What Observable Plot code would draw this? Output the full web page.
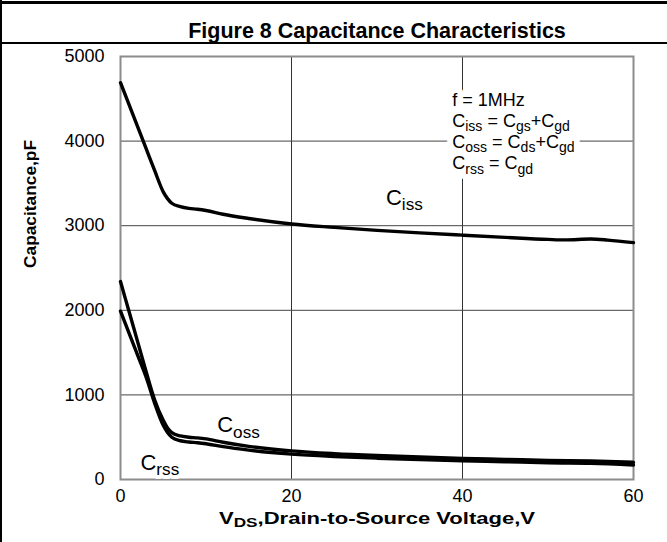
<!DOCTYPE html>
<html>
<head>
<meta charset="utf-8">
<script src="https://cdn.jsdelivr.net/npm/d3@7"></script>
<script src="https://cdn.jsdelivr.net/npm/@observablehq/plot@0.6"></script>
<style>
  html, body { margin: 0; padding: 0; background: #fff; }
  #wrap { position: relative; width: 667px; height: 542px; overflow: hidden; background: #fff; }
  #wrap svg { display: block; }
  .bl { position: absolute; left: 0; top: 0; width: 2px; height: 542px; background: #000; }
  .tl { position: absolute; left: 0; top: 1px; width: 667px; height: 3px; background: #000; }
  .ml { position: absolute; left: 0; top: 42px; width: 667px; height: 2px; background: #000; }
</style>
</head>
<body>
<div id="wrap"><div class="bl"></div><div class="tl"></div><div class="ml"></div></div>
<script>
// ---- data ----
const xTicks = [0, 20, 40, 60];
const yTicks = [0, 1000, 2000, 3000, 4000, 5000];

const cissV = [0, 1, 2, 3, 4, 5, 5.5, 6, 7, 8, 9, 10, 12, 15, 20, 25, 30, 35, 40, 45, 50, 52, 55, 57, 60];
const cissC = [4690, 4430, 4170, 3910, 3650, 3400, 3320, 3265, 3225, 3205, 3195, 3180, 3135, 3085, 3020, 2980, 2945, 2915, 2888, 2862, 2838, 2832, 2842, 2830, 2800];

const cossV = [0, 1, 2, 3, 4, 5, 5.5, 6, 7, 8, 9, 10, 12, 15, 20, 25, 30, 35, 40, 45, 50, 55, 60];
const cossC = [2340, 1985, 1630, 1275, 940, 700, 610, 555, 515, 500, 492, 480, 440, 392, 338, 306, 284, 267, 250, 238, 225, 218, 203];

const crssV = [0, 1, 2, 3, 4, 5, 5.5, 6, 7, 8, 9, 10, 12, 15, 20, 25, 30, 35, 40, 45, 50, 55, 60];
const crssC = [1990, 1730, 1470, 1210, 900, 640, 555, 500, 458, 443, 435, 423, 388, 347, 300, 272, 252, 236, 222, 210, 197, 192, 172];

const titleText = "Figure 8 Capacitance Characteristics";
const xLabel = "V_{DS},Drain-to-Source Voltage,V";
const yLabel = "Capacitance,pF";
const legendLines = ["f = 1MHz", "C_{iss} = C_{gs}+C_{gd}", "C_{oss} = C_{ds}+C_{gd}", "C_{rss} = C_{gd}"];
const curveNames = ["C_{iss}", "C_{oss}", "C_{rss}"];

// ---- build tables ----
const series = [
  ...cissV.map((v, i) => ({s: "Ciss", v, c: cissC[i]})),
  ...cossV.map((v, i) => ({s: "Coss", v, c: cossC[i]})),
  ...crssV.map((v, i) => ({s: "Crss", v, c: crssC[i]}))
];
const legendData = legendLines.map((t, i) => ({t, x: 38.8, y: [4480, 4232, 3985, 3735][i]}));
const curveLabels = [
  {t: curveNames[0], x: 33.2, y: 3330},
  {t: curveNames[1], x: 13.8, y: 640},
  {t: curveNames[2], x: 4.6, y: 200}
];

const font = "'Liberation Sans', Arial, Helvetica, sans-serif";
const halo = {fill: "white", stroke: "white", strokeWidth: 12, strokeLinejoin: "round"};

const chart = Plot.plot({
  width: 667,
  height: 542,
  marginLeft: 120,
  marginRight: 34,
  marginTop: 56,
  marginBottom: 63,
  style: {fontFamily: font, fontSize: "18px", color: "#000", background: "transparent", overflow: "visible"},
  x: {domain: [0, 60], ticks: xTicks, label: null},
  y: {domain: [0, 5000], ticks: yTicks, label: null},
  marks: [
    Plot.gridX(xTicks.slice(1, -1), {stroke: "#333", strokeOpacity: 1, strokeWidth: 1}),
    Plot.gridY(yTicks.slice(1, -1), {stroke: "#444", strokeOpacity: 1, strokeWidth: 1}),
    Plot.frame({stroke: "#8c8c8c", strokeWidth: 2}),
    Plot.axisX({ticks: xTicks, tickSize: 0, tickPadding: 10, fontSize: 18, tickFormat: d => String(d), label: null}),
    Plot.axisY({ticks: yTicks, tickSize: 0, tickPadding: 16, fontSize: 18, tickFormat: d => String(d), label: null}),
    Plot.text(legendData, {x: "x", y: "y", text: "t", textAnchor: "start", fontSize: 18, ...halo}),
    Plot.text(legendData, {x: "x", y: "y", text: "t", textAnchor: "start", fontSize: 18, fill: "#000"}),
    Plot.text(curveLabels, {x: "x", y: "y", text: "t", textAnchor: "middle", fontSize: 22, ...halo, strokeWidth: 8}),
    Plot.text(curveLabels, {x: "x", y: "y", text: "t", textAnchor: "middle", fontSize: 22, fill: "#000"}),
    Plot.line(series, {x: "v", y: "c", z: "s", stroke: "#000", strokeWidth: 3.4, curve: "monotone-x"}),
    Plot.text([titleText], {frameAnchor: "top", dy: -34, text: d => d, fontSize: 21.5, fontWeight: "bold", fill: "#000"}),
    Plot.text([xLabel], {frameAnchor: "bottom", dy: 44, text: d => d, fontSize: 17, fontWeight: "bold", fill: "#000"}),
    Plot.text([yLabel], {frameAnchor: "left", dx: -90, rotate: -90, text: d => d, fontSize: 17, fontWeight: "bold", fill: "#000"})
  ]
});

// turn "_{...}" into subscripts
function subscriptify(svg) {
  svg.querySelectorAll("text").forEach(t => {
    const s = t.textContent;
    if (!s.includes("_{")) return;
    const parts = s.split(/(_\{[^}]*\})/);
    while (t.firstChild) t.removeChild(t.firstChild);
    let down = false;
    for (const p of parts) {
      if (!p) continue;
      const ts = document.createElementNS("http://www.w3.org/2000/svg", "tspan");
      if (p.startsWith("_{")) {
        ts.textContent = p.slice(2, -1);
        ts.setAttribute("font-size", "0.78em");
        if (!down) ts.setAttribute("dy", "0.3em");
        down = true;
      } else {
        ts.textContent = p;
        if (down) ts.setAttribute("dy", "-0.234em");
        down = false;
      }
      t.appendChild(ts);
    }
  });
}
// stretch the axis titles horizontally like the reference's wide lettering
function stretch(svg, content, length) {
  svg.querySelectorAll("text").forEach(t => {
    if (t.textContent === content) {
      t.setAttribute("textLength", length);
      t.setAttribute("lengthAdjust", "spacingAndGlyphs");
    }
  });
}
stretch(chart, xLabel, 316);
stretch(chart, yLabel, 128);
subscriptify(chart);

document.getElementById("wrap").prepend(chart);
</script>
</body>
</html>
